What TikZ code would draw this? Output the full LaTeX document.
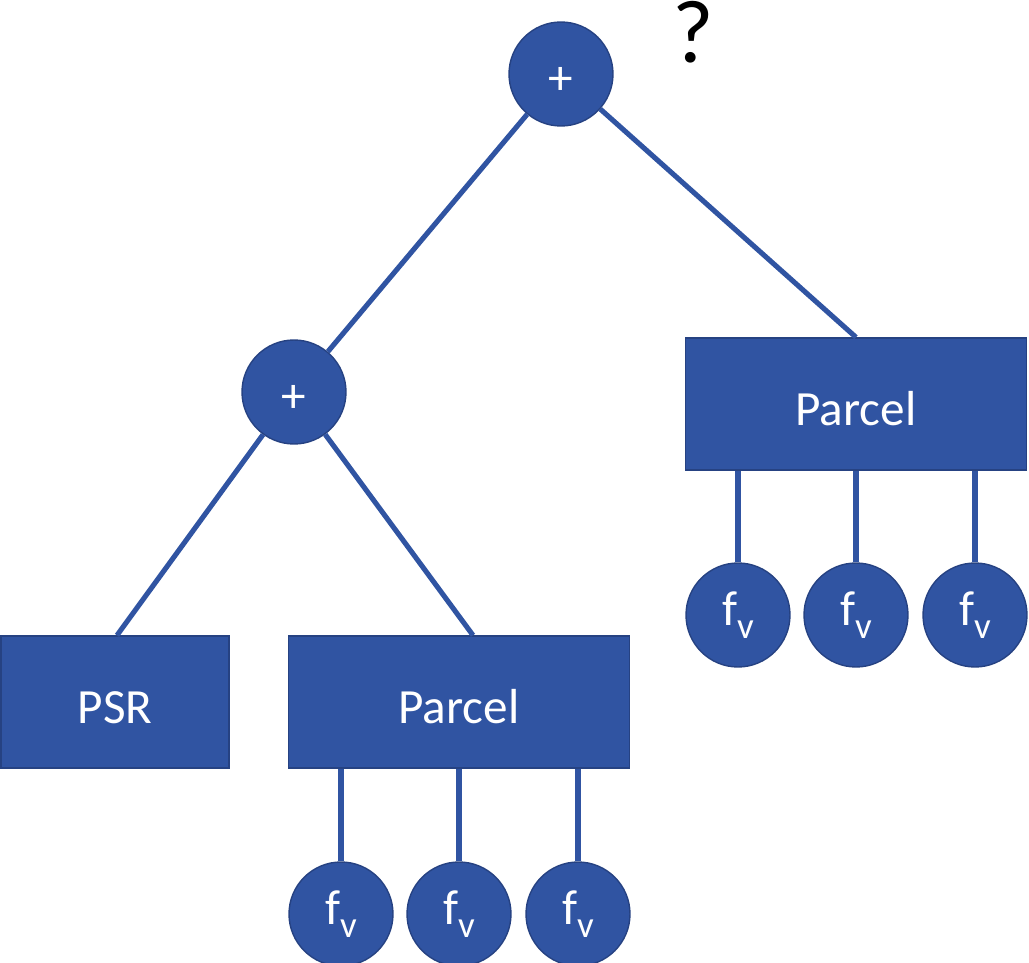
\documentclass[tikz,border=0pt]{standalone}
\usepackage{fontspec}
\setmainfont{Carlito}
\definecolor{nodeblue}{RGB}{48,84,162}
\definecolor{nodeedge}{RGB}{38,66,130}
\newcommand{\featlabel}{f\raisebox{-7pt}{\fontsize{21}{22}\selectfont v}}
\tikzset{
    featnode/.style={circle, fill=nodeblue, draw=nodeedge, line width=0.8pt, minimum size=2.08cm, inner sep=0pt, text=white, font=\fontsize{28}{30}\selectfont},
    opnode/.style={featnode, text height=23pt, text depth=0pt},
    boxnode/.style={rectangle, fill=nodeblue, draw=nodeedge, line width=0.8pt, minimum height=2.64cm, text height=24pt, text depth=0pt, text=white, font=\fontsize{28}{30}\selectfont},
    branch/.style={nodeblue, line width=2.9pt},
}

\begin{document}
\begin{tikzpicture}[x=0.02cm, y=-0.02cm]
    \useasboundingbox (0, 0) rectangle (1029, 963);
    \node[opnode] (plusT) at (561, 74) {+};
    \node[opnode] (plusL) at (294, 392) {+};
    \node[boxnode, minimum width=4.56cm] (psr) at (115, 702) {PSR};
    \node[boxnode, minimum width=6.82cm] (parcelL) at (459, 702) {Parcel};
    \node[boxnode, minimum width=6.82cm] (parcelR) at (856, 404) {Parcel};
    \node[font=\fontsize{51}{53}\selectfont, anchor=base] (query) at (693, 63) {?};
    % feature circles hanging off each parcel
    \foreach \x [count=\i] in {341, 459, 578} {
        \node[featnode] (fL\i) at (\x, 914) {\featlabel};
        \draw[branch] (fL\i.north) -- (fL\i.north |- parcelL.south);
    }
    \foreach \x [count=\i] in {738, 856, 975} {
        \node[featnode] (fR\i) at (\x, 615) {\featlabel};
        \draw[branch] (fR\i.north) -- (fR\i.north |- parcelR.south);
    }
    \draw[branch] (plusT) -- (plusL);
    \draw[branch] (plusT) -- (parcelR.north);
    \draw[branch] (plusL) -- ([xshift=0.04cm]psr.north);
    \draw[branch] (plusL) -- ([xshift=0.28cm]parcelL.north);
\end{tikzpicture}
\end{document}
